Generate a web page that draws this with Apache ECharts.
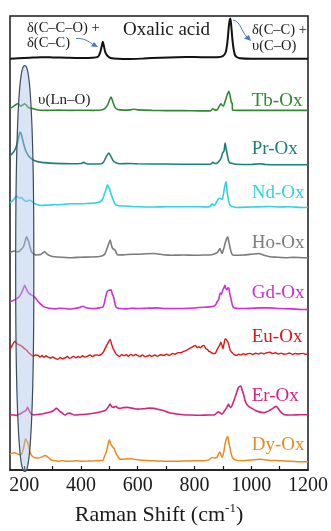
<!DOCTYPE html>
<html><head><meta charset="utf-8">
<script src="https://cdn.jsdelivr.net/npm/echarts@6/dist/echarts.min.js"></script>
<style>html,body{margin:0;padding:0;background:#fff}#c{width:331px;height:531px}</style>
</head><body><div id="c"></div>
<script>
// ---- data (Raman shift cm-1, relative intensity above each trace's baseline) ----
const seriesNames = ['Oxalic acid','Tb-Ox','Pr-Ox','Nd-Ox','Ho-Ox','Gd-Ox','Eu-Ox','Er-Ox','Dy-Ox'];
const stackOffsets = [414.5, 362, 308, 265, 214.7, 162.5, 114.7, 55.3, 8.7];
const xLabelValues = [200, 400, 600, 800, 1000, 1200];
const xTickValues = [200, 300, 400, 500, 600, 700, 800, 900, 1000, 1100];

const oxalic = [[150,-0.5],[180,0],[220,0.5],[260,1],[300,0.8],[350,0.5],[400,0.3],[440,0.5],[460,1.5],[468,6],[473,12],[477,16.5],[481,12],[486,6],[495,2],[505,0.3],[530,-0.5],[570,-0.8],[620,-0.3],[680,0.5],[740,1],[800,1.2],[850,1],[880,1],[900,2],[910,6],[915,14],[918,22],[921,32],[924,38],[926,40],[928,37],[931,28],[934,18],[938,9],[943,3],[950,1],[960,0],[1000,-0.5],[1100,-0.5],[1200,-0.5]];
const tbOx = [[150,2],[156,2.7],[167,5],[177,6.7],[188,4.3],[195,5.5],[202,6.7],[210,4.5],[216,2.7],[232,1.7],[249,0.3],[280,0],[320,0.3],[360,0],[400,0.2],[440,0],[470,0.3],[485,2],[495,6],[500,10],[506,13.3],[512,9],[520,3],[530,0.8],[550,0.3],[575,0.5],[587,1.2],[600,0.5],[650,0],[700,-0.2],[760,-0.3],[820,-0.5],[856,-0.5],[865,1.7],[872,0.5],[879,0.3],[887,4],[893,6.7],[898,5],[902,4.5],[907,8],[912,12.7],[917,17],[921,19.3],[926,14],[930,8],[933,7],[934,0.3],[950,0],[1000,0],[1100,0],[1200,0]];
const prOx = [[150,8],[156,10],[165,13],[173,18.3],[180,26],[185,32.3],[190,30],[195,24],[200,18.3],[208,11.7],[220,6.7],[237,3.3],[261,1.7],[307,0.7],[366,0.3],[400,0.5],[410,1.7],[420,0.3],[436,0],[471,0.3],[480,2],[488,6.7],[498,11],[506,7.5],[512,4],[517,2.3],[525,1],[535,0.3],[576,0.5],[600,0.2],[700,0],[800,-0.3],[856,-0.3],[865,1.7],[872,0.5],[879,0.7],[887,3],[893,5.5],[900,11.7],[904,13],[908,21],[911,16],[914,11.7],[920,3.3],[926,1],[932,0.7],[949,-0.3],[1000,-0.5],[1031,0.3],[1050,-0.5],[1100,-0.7],[1200,-0.7]];
const ndOx = [[150,4],[156,5.3],[165,8],[173,10.7],[179,9.5],[185,8.7],[191,9.3],[197,7.3],[203,6],[208,5.3],[215,6.5],[223,6.3],[230,4.5],[237,3],[250,1.8],[261,1.3],[285,1.8],[307,2],[330,2.3],[366,3],[400,3],[424,3.3],[450,3.8],[465,4.7],[475,7],[483,13],[489,18],[494,22],[498,19],[501,18],[506,13],[512,8],[518,4],[523,2],[540,0.7],[552,0.7],[600,0],[657,-0.3],[700,0],[774,0],[820,0],[844,-0.3],[855,0.5],[862,3],[867,1.5],[870,1.3],[878,5],[885,8],[891,8.5],[897,7.3],[901,11],[905,18],[908,22],[911,25.3],[914,18],[917,11.3],[921,5],[926,1.3],[935,0],[949,-0.7],[1000,-0.3],[1040,0],[1066,0.3],[1100,-0.3],[1130,0],[1183,-0.7],[1200,-0.5]];
const hoOx = [[150,4],[156,5],[165,5.7],[172,5],[179,5],[188,7],[197,10],[203,15],[208,20],[212,18],[216,15],[221,9],[226,5],[235,2.5],[243,1.7],[250,2],[258,2.3],[266,4],[272,5],[279,3],[286,1.7],[296,0.5],[307,0],[330,-0.5],[366,-1],[400,-0.5],[436,-0.3],[470,0.5],[483,2.3],[489,6],[494,10],[499,14],[503,16.7],[508,11],[512,8.3],[516,7.5],[520,6.7],[526,3],[531,1.7],[545,1.8],[564,2.3],[600,2.5],[630,3],[657,3.3],[690,2],[720,1.5],[762,1.7],[800,1.5],[833,1.7],[860,2],[879,4],[885,6],[889,8.3],[893,6],[897,3.3],[903,8],[908,13.3],[913,18],[917,20],[921,15],[926,8.3],[930,4],[935,1.7],[950,1.5],[972,1.7],[1000,2.5],[1025,3.3],[1045,1.5],[1066,0],[1090,-0.5],[1124,-1],[1150,-0.7],[1183,-1],[1200,-1]];
const gdOx = [[150,6.5],[153,7.2],[160,8],[167,9],[173,10],[179,11],[186,13.5],[193,17.3],[198,21],[202,23.3],[207,20],[212,17.3],[218,15],[223,14],[230,13],[237,11.5],[243,9.5],[249,7.2],[258,4.5],[267,2.2],[280,0.8],[296,0],[310,-0.3],[325,0.3],[342,0],[360,-0.5],[380,0.2],[395,1],[407,2.3],[418,0.8],[436,0],[455,0.2],[470,1],[477,1.3],[482,5],[486,10.5],[490,15],[494,17.8],[500,18.5],[506,18.8],[510,15],[515,11.7],[519,6],[523,1.8],[529,0.5],[535,0],[560,-0.3],[580,0.3],[599,0],[630,0.3],[669,0.7],[700,0],[739,0],[780,0.3],[833,1.3],[860,2],[868,2.3],[876,4.5],[881,7.5],[885,9],[891,15.7],[895,14.5],[900,19],[904,21],[907,23.3],[911,20],[914,19],[918,21],[921,20.8],[925,14],[928,10.8],[933,4],[937,1.3],[950,0.2],[972,0],[1000,0.3],[1030,0.7],[1066,0.7],[1100,0],[1140,-0.3],[1183,-1],[1200,-0.8]];
const euOx = [[150,7],[153,8.3],[160,12],[167,15],[173,13],[179,11.7],[185,11],[191,10],[197,8.5],[202,7.3],[208,6],[216,3.3],[224,1.5],[232,0],[240,1],[249,0.7],[256,-1],[263,0.5],[270,-1.3],[277,0.3],[284,-1],[292,-2],[300,-1],[310,-2.5],[319,-3.2],[327,-1.5],[335,-2.8],[344,-1.8],[352,-0.5],[360,-2.2],[366,-1.6],[374,-0.3],[382,-1.8],[390,-0.5],[398,-1.4],[405,0.3],[414,-1],[424,0],[432,1],[440,-0.5],[448,0.8],[456,1.2],[463,0.5],[471,1.7],[479,4],[488,9.3],[495,13],[503,16.7],[508,12],[512,8.3],[518,5],[523,2.5],[529,0.7],[536,-0.3],[544,1.6],[552,0.3],[560,1.4],[567,-0.2],[576,1.7],[584,0.2],[592,1.5],[600,0.5],[608,-0.4],[617,1.2],[625,-0.6],[634,0],[642,0.8],[650,-0.3],[660,1],[670,-0.2],[680,1.3],[692,0.7],[702,1.8],[712,0.8],[722,2.5],[732,2],[742,3.5],[751,3.3],[760,4.5],[770,5.5],[780,7.3],[788,8.5],[795,9.5],[803,10.7],[810,8.5],[816,9.5],[821,8.3],[827,10],[833,10.7],[840,7.5],[846,6.5],[850,5],[857,4],[865,2.5],[873,2.7],[879,6],[885,9.3],[889,11],[893,14],[897,10.5],[900,7.3],[904,12],[908,17.3],[913,16.5],[917,14.7],[921,11],[926,5.8],[932,3.5],[940,1.5],[949,0.7],[956,1.8],[964,1.2],[972,2.3],[980,1.4],[988,2.5],[996,2.7],[1005,1.6],[1015,2.8],[1025,2],[1035,3.2],[1045,2.2],[1055,3.5],[1066,4],[1075,2.5],[1085,3.3],[1095,2.1],[1105,2.9],[1115,1.8],[1124,2.2],[1135,3],[1145,1.6],[1155,2.7],[1165,2],[1175,2.5],[1183,2.7],[1192,1.8],[1200,2.2]];
const erOx = [[150,0.3],[153,0.3],[165,0],[173,-0.3],[185,1],[191,2],[198,3.5],[205,4.3],[209,6],[212,7.7],[216,5.5],[220,3],[226,1],[232,0.3],[245,0.5],[261,1],[280,2.3],[296,3.3],[305,5],[313,6.7],[320,5.5],[326,3.5],[331,2.7],[338,1],[345,0],[352,1.5],[360,2],[368,1],[377,0],[400,0.5],[424,1],[450,2],[471,3.3],[480,4],[488,5.3],[496,8],[503,11],[508,8.5],[512,7.7],[517,8],[523,8.7],[529,7.5],[535,6.7],[550,7.5],[564,7.7],[580,7],[599,6],[620,6.3],[640,7],[657,6.7],[675,5.5],[692,4.3],[715,2],[739,1],[760,0.3],[786,0],[820,-0.2],[850,0],[868,0],[878,2],[885,3.3],[891,2],[897,1],[905,4],[912,6.7],[916,9],[920,11],[924,8.5],[928,7.7],[933,10],[938,14],[943,18],[949,23],[955,27.7],[963,29.3],[968,25],[972,22],[978,15],[984,11],[990,9],[1002,6.7],[1010,5.5],[1019,4],[1028,3.2],[1037,2.7],[1045,2.5],[1054,3.3],[1063,4.5],[1072,6],[1080,7.5],[1087,8.7],[1094,7],[1101,4],[1108,2],[1115,0.5],[1130,0],[1147,0],[1170,0.3],[1194,0.3],[1200,0.2]];
const dyOx = [[150,7],[153,7.7],[160,8.3],[167,8.7],[175,7.5],[185,6.7],[192,8],[197,12.7],[201,18],[205,22.7],[209,20.5],[214,17.7],[220,10],[226,6],[234,4],[243,3.3],[252,3.5],[261,4.3],[268,5.3],[275,6],[282,4.5],[290,2.7],[298,1],[307,0.7],[320,0.2],[335,0.5],[350,0],[366,0],[385,0.5],[400,0.2],[424,0.3],[450,0.5],[470,0.8],[477,1],[483,5],[488,8.3],[493,14],[497,19],[500,21.7],[504,18],[508,16],[512,14.5],[517,12.7],[522,9],[527,6],[534,3],[541,2],[555,2.3],[576,2.7],[600,1.5],[622,1],[650,0.5],[680,0.3],[716,0],[760,0.3],[800,0.5],[833,0.7],[850,1.5],[862,4],[870,3.5],[879,4],[885,7.5],[889,9.3],[893,7],[897,4],[903,9],[908,17.7],[913,23],[917,25],[921,19],[926,12.3],[931,6],[937,2.7],[950,1],[972,0.7],[1000,1.3],[1031,2],[1060,1.2],[1101,0.7],[1140,0.2],[1183,-0.5],[1200,-0.3]];
const spectra = [oxalic, tbOx, prOx, ndOx, hoOx, gdOx, euOx, erOx, dyOx];

// ---- styling / layout (separate from data) ----
const colors = ['#111111','#2f8a2f','#1d7f7d','#2fd4df','#7b7b7b','#cf2fcf','#df1414','#d3237f','#e98c1f'];
const lineWidths = [2, 1.6, 1.6, 1.6, 1.6, 1.6, 1.4, 1.6, 1.5];
const labelAnchorY = [null, 371, 323, 279, 228, 178, 134, 74.7, 25.3];
const labelAnchorX = 1000;
const FONT = '"Liberation Serif", "Times New Roman", serif';

const chart = echarts.init(document.getElementById('c'), null, {renderer: 'canvas'});

const series = spectra.map((arr, i) => {
  const s = {
    type: 'line',
    name: seriesNames[i],
    data: arr.map(p => [p[0], p[1] + stackOffsets[i]]),
    showSymbol: false,
    smooth: 0.25,
    lineStyle: {color: colors[i], width: lineWidths[i]},
    itemStyle: {color: colors[i]},
    silent: true,
    z: 2
  };
  if (labelAnchorY[i] !== null) {
    s.markPoint = {
      silent: true,
      symbol: 'circle',
      symbolSize: 1,
      itemStyle: {color: 'rgba(0,0,0,0)'},
      label: {show: true, position: 'right', distance: 0, formatter: seriesNames[i], color: colors[i], fontSize: 19, fontFamily: FONT},
      data: [{coord: [labelAnchorX, labelAnchorY[i]]}]
    };
  }
  return s;
});

chart.setOption({
  animation: false,
  backgroundColor: '#ffffff',
  grid: {left: 10, right: 21, top: 16, bottom: 58, show: true, borderColor: '#1a1a1a', borderWidth: 1.5, backgroundColor: 'transparent'},
  xAxis: {
    type: 'value', min: 150, max: 1200,
    axisLine: {show: true, lineStyle: {color: '#1a1a1a', width: 1.5}},
    axisTick: {show: true, inside: true, length: 4, customValues: xTickValues, lineStyle: {color: '#1a1a1a', width: 1.2}},
    axisLabel: {show: true, customValues: xLabelValues, formatter: v => String(v), margin: 6, fontSize: 20, fontFamily: FONT, color: '#1a1a1a', showMaxLabel: true, showMinLabel: true, hideOverlap: false},
    splitLine: {show: false},
    name: '{a|Raman Shift (cm}{s|-1}{a|)}',
    nameLocation: 'middle', nameGap: 32,
    nameTextStyle: {
      rich: {
        a: {fontSize: 22, fontFamily: FONT, color: '#1a1a1a', lineHeight: 26},
        s: {fontSize: 13, fontFamily: FONT, color: '#1a1a1a', verticalAlign: 'top', lineHeight: 26, padding: [0, 0, 0, 0]}
      }
    }
  },
  yAxis: {type: 'value', min: 0, max: 457, show: false},
  series: series
});

// ---- annotations placed from data coordinates ----
const px = (v, y) => chart.convertToPixel({gridIndex: 0}, [v, y]);
const ellC = px(202, 0)[0];
const ellHalf = px(234, 0)[0] - ellC;
const ellTop = px(202, 407)[1];
const ellBot = px(202, -1.5)[1];
const ellCy = (ellTop + ellBot) / 2, ellRy = (ellBot - ellTop) / 2;
const ellPts = [];
const nExp = 2.4;
for (let k = 0; k < 180; k++) {
  const t = k / 180 * Math.PI * 2;
  const c = Math.cos(t), s = Math.sin(t);
  ellPts.push([ellC + ellHalf * Math.sign(c) * Math.pow(Math.abs(c), 2 / nExp), ellCy + ellRy * Math.sign(s) * Math.pow(Math.abs(s), 2 / nExp)]);
}
const txt = (x, y, t, size, align) => ({type: 'text', x: x, y: y, z: 50, style: {text: t, fontSize: size, fontFamily: FONT, fill: '#1a1a1a', align: align || 'left', verticalAlign: 'middle'}});
const arrowBlue = '#4a78c4';
chart.setOption({
  graphic: [
    {type: 'polygon', z: 40, shape: {points: ellPts}, style: {fill: 'rgba(170,198,232,0.45)', stroke: '#3b4a5c', lineWidth: 1.2}},
    txt(27, 28.5, 'δ(C–C–O) +', 14.5),
    txt(27, 43.5, 'δ(C–C)', 14.5),
    txt(123, 30, 'Oxalic acid', 19),
    txt(252, 30, 'δ(C–C) +', 14.5),
    txt(252, 46.5, 'υ(C–O)', 14.5),
    txt(38, 100, 'υ(Ln–O)', 15),
    {type: 'bezierCurve', z: 45, shape: {x1: 76, y1: 38.5, x2: 93, y2: 44.5, cpx1: 84, cpy1: 38, cpx2: 88, cpy2: 41}, style: {stroke: arrowBlue, lineWidth: 1, fill: null}},
    {type: 'polygon', z: 45, shape: {points: [[98, 47], [91, 46.5], [94, 42]]}, style: {fill: arrowBlue}},
    {type: 'bezierCurve', z: 45, shape: {x1: 233, y1: 20, x2: 247, y2: 37, cpx1: 241, cpy1: 22, cpx2: 241, cpy2: 31}, style: {stroke: arrowBlue, lineWidth: 1, fill: null}},
    {type: 'polygon', z: 45, shape: {points: [[251, 41], [244, 38.5], [249, 35]]}, style: {fill: arrowBlue}}
  ]
});
</script>
</body></html>
